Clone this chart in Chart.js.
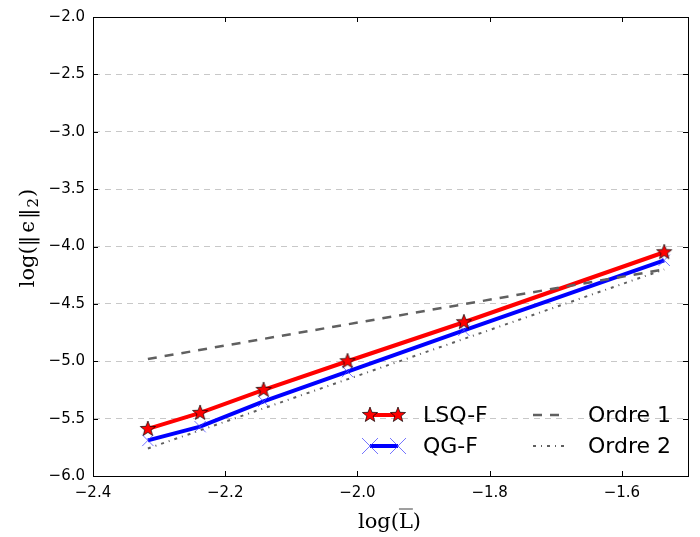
<!DOCTYPE html>
<html>
<head>
<meta charset="utf-8">
<script src="https://cdn.jsdelivr.net/npm/chart.js@4.4.1/dist/chart.umd.min.js"></script>
<style>
  html, body { margin: 0; padding: 0; background: #fff; }
  #wrap { width: 700px; height: 537px; }
</style>
</head>
<body>
<div id="wrap"><canvas id="convChart" width="700" height="537"></canvas></div>
<script>
// log of mean mesh size and log of L2 error
const logL = [-2.317, -2.238, -2.142, -2.015, -1.839, -1.536];
const lsqF = [-5.59, -5.45, -5.25, -5.00, -4.66, -4.05];
const qgF = [-5.69, -5.57, -5.35, -5.09, -4.73, -4.12];

// reference slopes (two end points each)
const refX = [-2.317, -1.536];
const ordre1 = [-4.98, -4.20];
const ordre2 = [-5.76, -4.20];

const xTicks = [-2.4, -2.2, -2.0, -1.8, -1.6];
const yTicks = [-6.0, -5.5, -5.0, -4.5, -4.0, -3.5, -3.0, -2.5, -2.0];

const pts = (xs, ys) => xs.map((x, i) => ({ x: x, y: ys[i] }));
const fmt = v => v.toFixed(1).replace('-', '\u2212');

// filled star marker like matplotlib '*'
function makeStar(r) {
  const c = document.createElement('canvas');
  const s = Math.ceil(r * 2 + 4);
  c.width = s; c.height = s;
  const g = c.getContext('2d');
  g.beginPath();
  for (let i = 0; i < 10; i++) {
    const a = -Math.PI / 2 + i * Math.PI / 5;
    const rr = i % 2 === 0 ? r : r * 0.42;
    g.lineTo(s / 2 + rr * Math.cos(a), s / 2 + rr * Math.sin(a));
  }
  g.closePath();
  g.fillStyle = '#ff0000';
  g.fill();
  g.strokeStyle = '#000';
  g.lineWidth = 0.7;
  g.stroke();
  return c;
}
const star = makeStar(8);

function drawX(g, x, y, r) {
  g.save();
  g.strokeStyle = 'rgba(70,70,255,0.75)';
  g.lineWidth = 1;
  g.beginPath();
  g.moveTo(x - r, y - r); g.lineTo(x + r, y + r);
  g.moveTo(x - r, y + r); g.lineTo(x + r, y - r);
  g.stroke();
  g.restore();
}

const framePlugin = {
  id: 'frame',
  afterDraw(chart) {
    const g = chart.ctx;
    const a = chart.chartArea;
    const xs = chart.scales.x, ys = chart.scales.y;
    g.save();
    // frame
    g.strokeStyle = '#000';
    g.lineWidth = 1;
    g.strokeRect(a.left + 0.5, a.top + 0.5, a.right - a.left, a.bottom - a.top);
    // inward ticks on all sides
    g.beginPath();
    xTicks.forEach(v => {
      const p = Math.round(xs.getPixelForValue(v)) + 0.5;
      g.moveTo(p, a.bottom); g.lineTo(p, a.bottom - 5);
      g.moveTo(p, a.top); g.lineTo(p, a.top + 5);
    });
    yTicks.forEach(v => {
      const p = Math.round(ys.getPixelForValue(v)) + 0.5;
      g.moveTo(a.left, p); g.lineTo(a.left + 5, p);
      g.moveTo(a.right, p); g.lineTo(a.right - 5, p);
    });
    g.stroke();

    // legend
    g.font = '22px "DejaVu Sans"';
    g.fillStyle = '#000';
    g.textBaseline = 'middle';
    const r1 = 415, r2 = 446;
    g.lineCap = 'butt';
    g.strokeStyle = '#ff0000'; g.lineWidth = 4;
    g.beginPath(); g.moveTo(370, r1); g.lineTo(398, r1); g.stroke();
    g.drawImage(star, 370 - star.width / 2, r1 - star.height / 2);
    g.drawImage(star, 398 - star.width / 2, r1 - star.height / 2);
    g.strokeStyle = '#0000ff';
    g.beginPath(); g.moveTo(370, r2); g.lineTo(398, r2); g.stroke();
    drawX(g, 370, r2, 8); drawX(g, 398, r2, 8);
    g.fillText('LSQ-F', 423, r1 + 1);
    g.fillText('QG-F', 423, r2 + 1);

    g.strokeStyle = '#606060';
    g.lineWidth = 2.5;
    g.setLineDash([9, 8]);
    g.beginPath(); g.moveTo(533, r1); g.lineTo(560, r1); g.stroke();
    g.lineWidth = 2;
    g.setLineDash([3, 5, 1, 5]);
    g.beginPath(); g.moveTo(533, r2); g.lineTo(566, r2); g.stroke();
    g.setLineDash([]);
    g.fillText('Ordre 1', 588, r1 + 1);
    g.fillText('Ordre 2', 588, r2 + 1);

    // axis titles
    const big = '21px "DejaVu Serif"', small = '15px "DejaVu Serif"';
    g.font = big;
    g.textBaseline = 'alphabetic';
    // x: log(L with overline)
    const cx = (a.left + a.right) / 2 - 1;
    const yb = 528;
    const t1 = 'log(', t2 = 'L', t3 = ')';
    const w1 = g.measureText(t1).width, w2 = g.measureText(t2).width, w3 = g.measureText(t3).width;
    let x0 = cx - (w1 + w2 + w3) / 2;
    g.fillText(t1, x0, yb);
    g.fillText(t2, x0 + w1, yb);
    g.fillText(t3, x0 + w1 + w2, yb);
    g.lineWidth = 1.2;
    g.beginPath(); g.moveTo(x0 + w1, yb - 19); g.lineTo(x0 + w1 + w2, yb - 19); g.stroke();

    // y: log(||eps||_2), rotated
    g.save();
    g.translate(34, 238);
    g.rotate(-Math.PI / 2);
    const parts = ['log(', '\u2016', '\u03f5', '\u2016', '2', ')'];
    const gap = [0, 2, 2, 2, 1, 0];
    const widths = parts.map((p, i) => {
      g.font = i === 4 ? small : big;
      return g.measureText(p).width + gap[i];
    });
    let sx = -widths.reduce((s, w) => s + w, 0) / 2;
    parts.forEach((p, i) => {
      g.font = i === 4 ? small : big;
      g.fillText(p, sx + (i === 2 || i === 3 ? 1 : 0), i === 4 ? 4 : 0);
      sx += widths[i];
    });
    g.restore();
    g.restore();
  }
};

new Chart(document.getElementById('convChart').getContext('2d'), {
  type: 'line',
  data: {
    datasets: [
      {
        label: 'Ordre 1',
        data: pts(refX, ordre1),
        borderColor: '#606060',
        borderWidth: 2.5,
        borderDash: [9, 8],
        pointRadius: 0,
        order: 0,
      },
      {
        label: 'Ordre 2',
        data: pts(refX, ordre2),
        borderColor: '#606060',
        borderWidth: 2,
        borderDash: [3, 5, 1, 5],
        pointRadius: 0,
        order: 0,
      },
      {
        label: 'LSQ-F',
        data: pts(logL, lsqF),
        borderColor: '#ff0000',
        borderWidth: 4,
        pointStyle: star,
        pointRadius: 8,
        order: 1,
      },
      {
        label: 'QG-F',
        data: pts(logL, qgF),
        borderColor: '#0000ff',
        borderWidth: 4,
        pointStyle: 'crossRot',
        pointRadius: 8,
        pointBorderWidth: 1,
        pointBorderColor: 'rgba(70,70,255,0.75)',
        order: 2,
      }
    ]
  },
  options: {
    responsive: false,
    animation: false,
    layout: { padding: { left: 0, top: 14, right: 12, bottom: 0 } },
    plugins: {
      legend: { display: false },
      tooltip: { enabled: false }
    },
    scales: {
      x: {
        type: 'linear',
        min: -2.4,
        max: -1.5,
        afterBuildTicks: s => { s.ticks = xTicks.map(v => ({ value: v })); },
        afterFit: s => { s.height = 61; },
        grid: { display: false, drawTicks: false },
        border: { color: '#000' },
        ticks: {
          padding: 8,
          color: '#000',
          font: { family: 'DejaVu Sans', size: 15 },
          callback: v => fmt(v),
          maxRotation: 0,
        }
      },
      y: {
        type: 'linear',
        min: -6,
        max: -2,
        afterBuildTicks: s => { s.ticks = yTicks.map(v => ({ value: v })); },
        afterFit: s => { s.width = 93; },
        grid: { color: '#c8c8c8', drawTicks: false },
        border: { color: '#000', dash: [6, 5] },
        ticks: {
          padding: 8,
          color: '#000',
          font: { family: 'DejaVu Sans', size: 15 },
          callback: v => fmt(v),
        }
      }
    }
  },
  plugins: [framePlugin]
});
</script>
</body>
</html>
